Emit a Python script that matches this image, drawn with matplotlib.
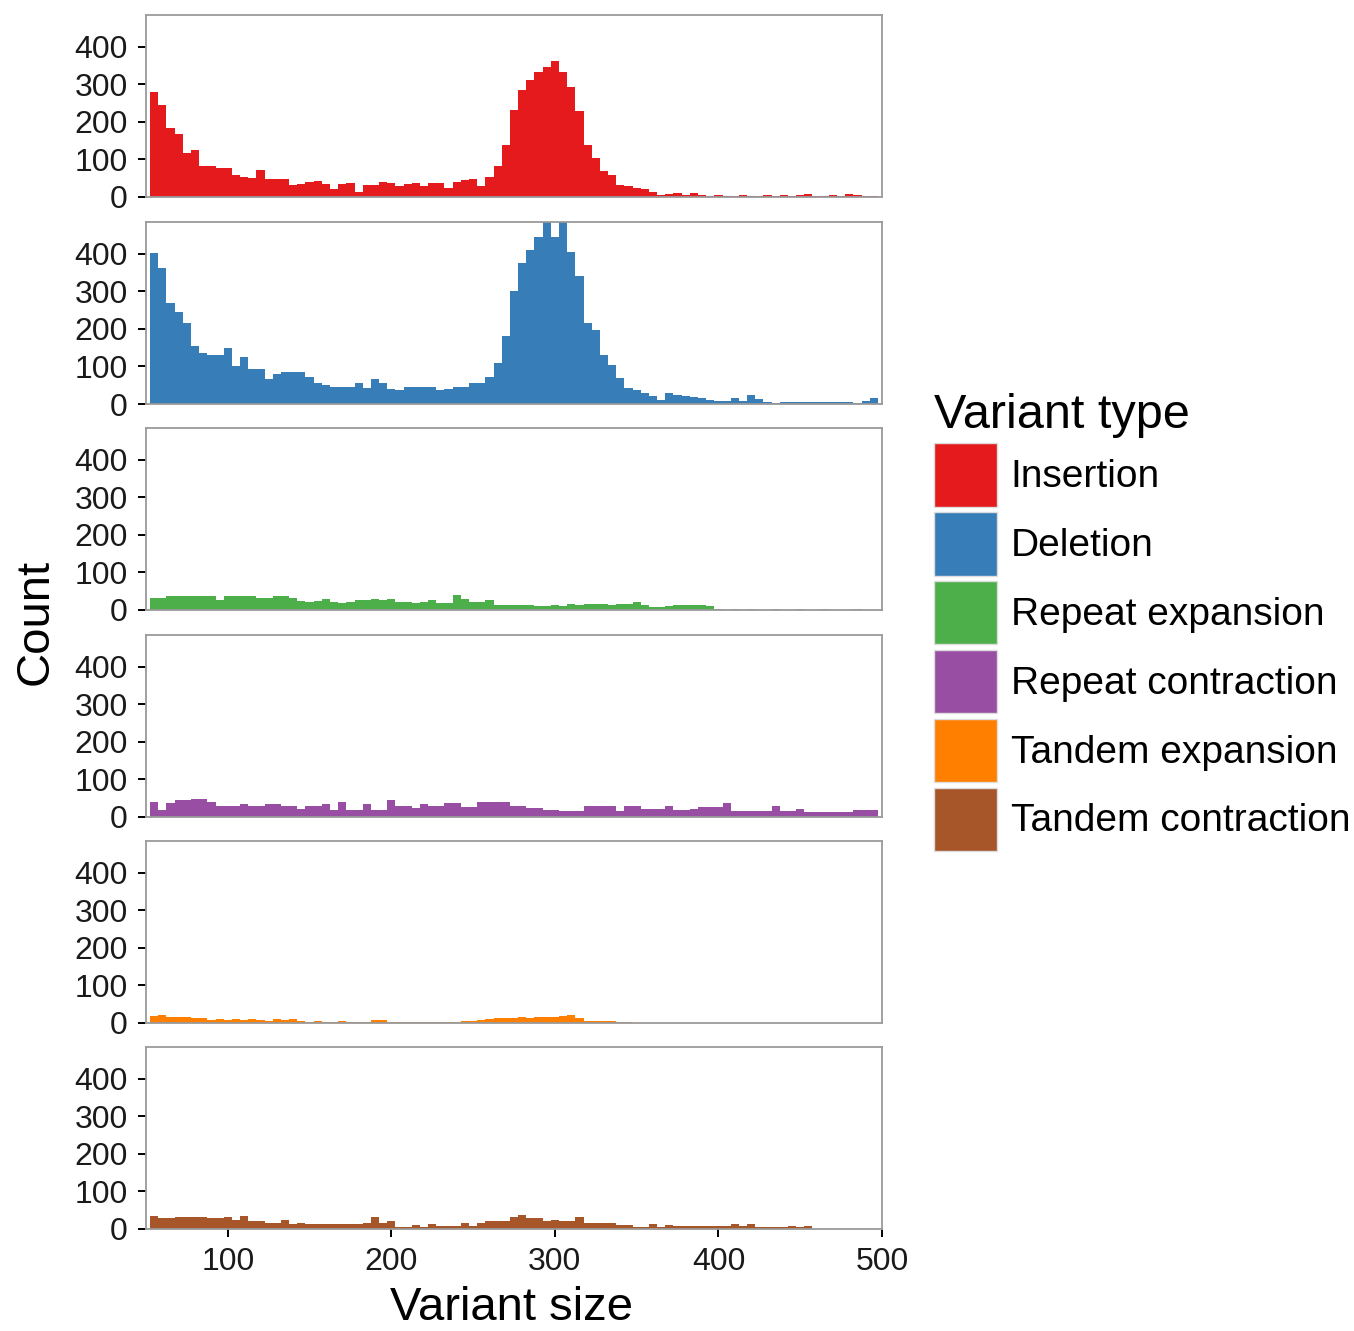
import numpy as np
import matplotlib.pyplot as plt
from matplotlib.patches import Patch

plt.rcParams['font.family'] = ['Liberation Sans', 'DejaVu Sans']

# bins of width 5 from 52.5 to 497.5 (centres 55 ... 495)
edges = np.arange(52.5, 497.5 + 0.1, 5)

types = ['Insertion', 'Deletion', 'Repeat expansion', 'Repeat contraction',
         'Tandem expansion', 'Tandem contraction']
colors = ['#E41A1C', '#377EB8', '#4DAF4A', '#984EA3', '#FF7F00', '#A65628']

insertion = [281, 245, 183, 168, 116, 125, 83, 83, 77, 77, 59, 52, 50, 72, 47, 47, 47, 32,
             35, 41, 43, 35, 20, 35, 38, 14, 32, 32, 40, 38, 28, 35, 36, 30, 38, 36, 25, 40,
             45, 47, 28, 54, 83, 139, 232, 285, 312, 332, 347, 363, 334, 294, 228, 139, 103,
             68, 59, 32, 28, 25, 20, 14, 5, 8, 10, 4, 10, 4, 3, 4, 3, 2, 4, 3, 3, 5, 3, 4, 3,
             6, 8, 3, 2, 4, 3, 7, 6, 3, 2]
deletion = [402, 362, 270, 246, 215, 155, 135, 131, 131, 149, 100, 124, 92, 92, 66, 80, 84,
            84, 84, 73, 57, 51, 46, 46, 46, 55, 42, 67, 55, 40, 37, 46, 46, 46, 45, 37, 40,
            46, 46, 55, 55, 73, 108, 180, 300, 375, 411, 446, 520, 446, 520, 406, 340, 215,
            197, 131, 104, 68, 42, 37, 28, 20, 11, 28, 25, 20, 18, 15, 11, 8, 8, 17, 8, 25,
            12, 4, 3, 4, 5, 4, 6, 5, 4, 5, 5, 4, 3, 8, 15]
repeat_exp = [31, 33, 37, 38, 37, 36, 38, 36, 27, 38, 38, 37, 36, 31, 32, 37, 36, 31, 23,
              22, 24, 28, 20, 19, 21, 26, 27, 28, 27, 28, 22, 21, 18, 20, 27, 18, 19, 40, 30,
              22, 22, 27, 13, 12, 13, 12, 14, 11, 10, 12, 11, 15, 14, 15, 16, 15, 14, 16, 15,
              21, 12, 9, 8, 10, 12, 13, 12, 14, 10, 2, 1, 2, 1, 2, 1, 1, 2, 1, 1, 2, 1, 1, 2,
              1, 1, 1, 2, 1, 1]
repeat_con = [41, 19, 36, 44, 44, 47, 47, 41, 29, 29, 29, 34, 28, 28, 34, 34, 28, 28, 22,
              29, 29, 34, 19, 41, 19, 19, 34, 19, 19, 44, 29, 29, 23, 34, 28, 28, 36, 36, 26,
              26, 40, 40, 40, 40, 28, 29, 23, 23, 19, 19, 16, 16, 16, 28, 28, 28, 28, 16, 28,
              28, 22, 22, 22, 28, 19, 19, 22, 26, 26, 26, 36, 16, 16, 16, 16, 16, 28, 16, 16,
              22, 13, 13, 13, 13, 13, 13, 18, 18, 18]
tandem_exp = [18, 20, 17, 16, 15, 14, 12, 9, 10, 8, 11, 7, 10, 8, 6, 10, 7, 11, 5, 3, 4, 3,
              2, 6, 3, 2, 3, 9, 7, 3, 2, 2, 3, 2, 3, 2, 3, 3, 5, 6, 8, 10, 13, 14, 14, 15, 14,
              15, 16, 15, 19, 20, 14, 5, 6, 4, 6, 3, 2, 1, 1, 0, 0, 0, 0, 0, 0, 0, 0, 0, 0, 0,
              0, 0, 0, 0, 0, 0, 0, 0, 0, 0, 0, 0, 0, 0, 0, 0, 0]
tandem_con = [35, 28, 28, 33, 33, 33, 33, 28, 28, 33, 25, 35, 20, 20, 17, 17, 23, 14, 17,
              14, 14, 14, 14, 14, 14, 14, 17, 33, 17, 20, 6, 6, 11, 6, 14, 8, 8, 8, 15, 8, 15,
              20, 20, 20, 31, 36, 28, 28, 20, 25, 20, 20, 33, 15, 15, 15, 15, 11, 11, 6, 6, 12,
              6, 10, 8, 8, 8, 8, 8, 8, 8, 14, 8, 14, 4, 4, 4, 4, 8, 4, 8, 0, 0, 0, 0, 0, 0, 0, 0]

series = [insertion, deletion, repeat_exp, repeat_con, tandem_exp, tandem_con]

W, H = 1354, 1331
fig = plt.figure(figsize=(W / 100, H / 100), dpi=100)

tops = [15, 222, 428, 635, 841, 1047]
panel_h = 182
left, right = 146, 882

for i, (vals, col) in enumerate(zip(series, colors)):
    ax = fig.add_axes([left / W, 1 - (tops[i] + panel_h) / H, (right - left) / W, panel_h / H])
    ax.stairs(vals, edges, fill=True, color=col, linewidth=0)
    ax.set_xlim(50, 500)
    ax.set_ylim(0, 485)
    ax.set_yticks([0, 100, 200, 300, 400])
    ax.set_xticks([100, 200, 300, 400, 500])
    for s in ax.spines.values():
        s.set_color('#9a9a9a')
        s.set_linewidth(1.3)
    ax.tick_params(axis='both', length=6, width=1.4, color='black',
                   labelsize=23, labelcolor='#1a1a1a', pad=7)
    ax.tick_params(axis='x', pad=7)
    if i < 5:
        ax.tick_params(axis='x', bottom=False, labelbottom=False)

fig.text(36 / W, 1 - 622 / H, 'Count', rotation=90, ha='center', va='center', fontsize=34)
fig.text(512 / W, 1 - 1308 / H, 'Variant size', ha='center', va='center', fontsize=34)

handles = [Patch(facecolor=c, edgecolor='#dddddd', linewidth=1) for c in colors]
leg = fig.legend(handles, types, loc='upper left', bbox_to_anchor=(934 / W, 1 - 393 / H),
                 frameon=False, fontsize=28, title='Variant type', title_fontsize=35,
                 handlelength=1.62, handleheight=2.13, labelspacing=0.14, handletextpad=0.35,
                 borderpad=0, borderaxespad=0)
leg._legend_box.align = 'left'

fig.savefig('out.png', dpi=100)
